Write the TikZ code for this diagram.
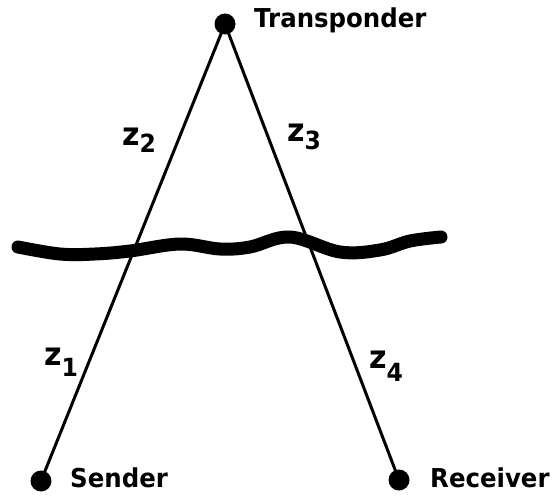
\documentclass[tikz,border=0pt]{standalone}
\usepackage{fontspec}
\setmainfont{DejaVu Sans}[FakeStretch=0.94]
\newcommand{\zlab}[2]{{\fontsize{32}{32}\selectfont\bfseries z}\raisebox{#2}{\fontsize{25}{25}\selectfont\bfseries #1}}
\begin{document}
\begin{tikzpicture}[x=1pt,y=-1pt,
  station/.style={circle,fill=black,inner sep=0pt,minimum size=21pt},
  pathline/.style={line width=3pt},
  tag/.style={anchor=base west,inner sep=0pt,font=\fontsize{26}{26}\selectfont\bfseries},
  zlabel/.style={anchor=base west,inner sep=0pt},
  surface/.style={line width=13pt,line cap=round,line join=round}]
\useasboundingbox (0,0) rectangle (559,497);
\node[station] (T) at (225,24) {};
\node[station] (S) at (41,481) {};
\node[station] (R) at (399,480) {};
\draw[pathline] (T.center) -- (S.center);
\draw[pathline] (T.center) -- (R.center);
\draw[surface] plot[smooth,tension=0.6] coordinates {(18,247) (60,254) (95,254) (130,251) (180,244) (220,249) (250,247) (290,237) (340,252) (380,250) (410,241) (441,237)};
\node[tag] (Tl) at (254,28) {Transponder};
\node[tag] (Sl) at (70,487) {Sender};
\node[tag] (Rl) at (430,487) {Receiver};
\node[zlabel] (z2) at (122,146) {\zlab{2}{-7pt}};
\node[zlabel] (z3) at (287,142) {\zlab{3}{-8pt}};
\node[zlabel] (z1) at (44,365) {\zlab{1}{-11pt}};
\node[zlabel] (z4) at (369,368) {\zlab{4}{-13pt}};
\end{tikzpicture}
\end{document}
